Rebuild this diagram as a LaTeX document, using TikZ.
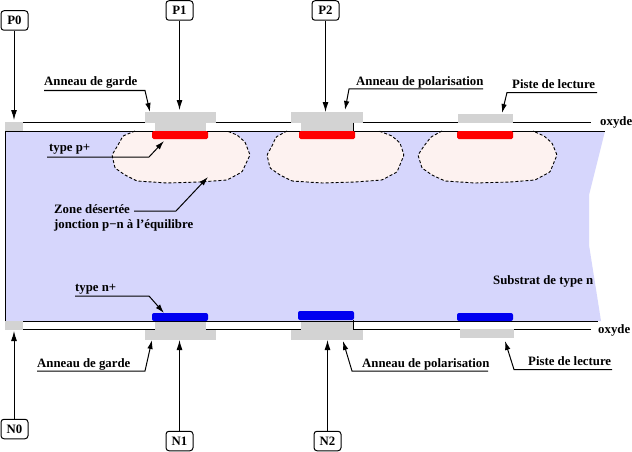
\documentclass[tikz,border=0pt]{standalone}
\usepackage{fontspec}
\setmainfont{Liberation Serif}
\usetikzlibrary{arrows.meta}
\definecolor{subst}{HTML}{D6D6FC}
\definecolor{zonefill}{HTML}{FDF2F0}
\definecolor{metal}{HTML}{D3D3D3}
\definecolor{nblue}{HTML}{0000F0}
\tikzset{
  lbl/.style={inner sep=0pt,font=\bfseries\fontsize{12.8}{14}\selectfont,anchor=west},
  pad/.style={draw,rounded corners=3pt,minimum width=27pt,minimum height=19.5pt,inner sep=0pt,line width=1pt,font=\bfseries\fontsize{12.8}{14}\selectfont},
  lead/.style={draw,line width=1pt,-{Latex[length=9pt,width=5.5pt]}},
  probe/.style={draw,line width=1pt,-{Latex[length=10pt,width=6pt]}},
  oxline/.style={line width=1pt},
  zone/.style={draw,dash pattern=on 3pt off 2pt,line width=0.9pt,fill=zonefill,rounded corners=1pt},
  metalbox/.style={fill=metal},
  pplus/.style={fill=red,rounded corners=1.5pt},
  nplus/.style={fill=nblue,rounded corners=2pt}
}
\begin{document}
\begin{tikzpicture}[x=1pt,y=-1pt]
\useasboundingbox (0,0) rectangle (632,452);
\fill[white] (0,0) rectangle (632,452);
% substrate
\fill[subst] (5,131) -- (605,131) -- (589,195) -- (589,245) -- (601,321) -- (5,321) -- cycle;
% depletion zones
\path[zone] (135,131) -- (123,136) -- (118,145) -- (112,155) -- (115,168) -- (125,175) -- (137,181) -- (167,183) -- (200,182) -- (227,180) -- (242,172) -- (250,155) -- (245,142) -- (237,135) -- (227,131);
\path[zone] (287,131) -- (276,137) -- (272,146) -- (267,155) -- (270,168) -- (280,175) -- (292,181) -- (322,183) -- (355,182) -- (382,180) -- (397,172) -- (404,155) -- (400,143) -- (392,136) -- (379,131);
\path[zone] (442,131) -- (431,137) -- (424,146) -- (418,155) -- (422,168) -- (432,175) -- (445,181) -- (475,183) -- (510,182) -- (535,180) -- (550,172) -- (557,155) -- (552,143) -- (544,136) -- (533,131);
% oxide lines
\draw[oxline] (23,122.5) -- (591,122.5);
\draw[oxline] (5,321) -- (5,131) -- (605,131);
\draw[oxline] (5,321) -- (598,321);
\draw[oxline] (23,329.5) -- (591,329.5);
\fill[metalbox] (5,122) rectangle (23,131);
\fill[metalbox] (145,112) rectangle (216,122.5);
\fill[metalbox] (155,122.5) rectangle (206,131);
\fill[metalbox] (291,112) rectangle (363,122.5);
\fill[metalbox] (301,122.5) rectangle (353,131);
\fill[metalbox] (458,114) rectangle (513,123);
\draw[oxline] (353,122.5) -- (353,131);
\fill[pplus] (152,131) rectangle (208,139);
\fill[pplus] (299,131) rectangle (355,139);
\fill[pplus] (457,131) rectangle (513,139);
\fill[metalbox] (5,321) rectangle (23,330);
\fill[metalbox] (155,321.5) rectangle (206,329.5);
\fill[metalbox] (145,329.5) rectangle (216,340);
\fill[metalbox] (301,321.5) rectangle (353,329.5);
\fill[metalbox] (291,329.5) rectangle (363,340);
\fill[metalbox] (460,329) rectangle (514,338);
\draw[oxline] (353,320) -- (353,329.5);
\fill[nplus] (152,313) rectangle (208,321);
\fill[nplus] (298,311) rectangle (354,320);
\fill[nplus] (457,313) rectangle (513,321);
% pads
\node[pad] (P0) at (14.5,20.5) {P0};
\node[pad] (P1) at (179.5,10.5) {P1};
\node[pad] (P2) at (325.5,10.5) {P2};
\node[pad] (N0) at (14.5,429) {N0};
\node[pad] (N1) at (179.5,441) {N1};
\node[pad] (N2) at (327.5,441) {N2};
\coordinate (tP0) at (14,120);
\coordinate (tP1) at (179.5,110);
\coordinate (tP2) at (325.5,112);
\coordinate (tN0) at (14,331);
\coordinate (tN1) at (179.5,340);
\coordinate (tN2) at (327.5,340);
\path[probe] (P0.south -| tP0) -- (tP0);
\path[probe] (P1) -- (tP1);
\path[probe] (P2) -- (tP2);
\path[probe] (N0.north -| tN0) -- (tN0);
\path[probe] (N1) -- (tN1);
\path[probe] (N2) -- (tN2);
% labels
\node[lbl] (a1) at (44,82) {Anneau de garde};
\node[lbl] (a2) at (356,82) {Anneau de polarisation};
\node[lbl] (a3) at (512,84) {Piste de lecture};
\node[lbl] (ox1) at (600,122) {oxyde};
\node[lbl] (tp) at (49,149) {type p+};
\node[lbl] (zd) at (54,209) {Zone désertée};
\node[lbl] (jn) at (54,225) {jonction p−n à l’équilibre};
\node[lbl] (sb) at (493,281) {Substrat de type n};
\node[lbl] (tn) at (75,289) {type n+};
\node[lbl] (b1) at (37,364) {Anneau de garde};
\node[lbl] (b2) at (362,364) {Anneau de polarisation};
\node[lbl] (b3) at (528,361) {Piste de lecture};
\node[lbl] (ox2) at (598,330) {oxyde};
% leaders
\coordinate (la1) at (44,90.5); \coordinate (ka1) at (145,90.5); \coordinate (ea1) at (150,112);
\coordinate (la2) at (483,89); \coordinate (ka2) at (349,89); \coordinate (ea2) at (345,110);
\coordinate (la3) at (597,92.5); \coordinate (ka3) at (507,92.5); \coordinate (ea3) at (502,113);
\coordinate (ltp) at (47,157); \coordinate (ktp) at (149,157); \coordinate (etp) at (164,141);
\coordinate (lzd) at (134,211); \coordinate (kzd) at (176,211); \coordinate (ezd) at (208,177);
\coordinate (ltn) at (75,296); \coordinate (ktn) at (149,296); \coordinate (etn) at (164,313);
\coordinate (lb1) at (37,371); \coordinate (kb1) at (145,371); \coordinate (eb1) at (152,340);
\coordinate (lb2) at (488,371); \coordinate (kb2) at (352,371); \coordinate (eb2) at (343,341);
\coordinate (lb3) at (612,369.5); \coordinate (kb3) at (514,369.5); \coordinate (eb3) at (505,341);
\path[lead] (la1) -- (ka1) -- (ea1);
\path[lead] (la2) -- (ka2) -- (ea2);
\path[lead] (la3) -- (ka3) -- (ea3);
\path[lead] (ltp) -- (ktp) -- (etp);
\path[lead] (lzd) -- (kzd) -- (ezd);
\path[lead] (ltn) -- (ktn) -- (etn);
\path[lead] (lb1) -- (kb1) -- (eb1);
\path[lead] (lb2) -- (kb2) -- (eb2);
\path[lead] (lb3) -- (kb3) -- (eb3);
\end{tikzpicture}
\end{document}
